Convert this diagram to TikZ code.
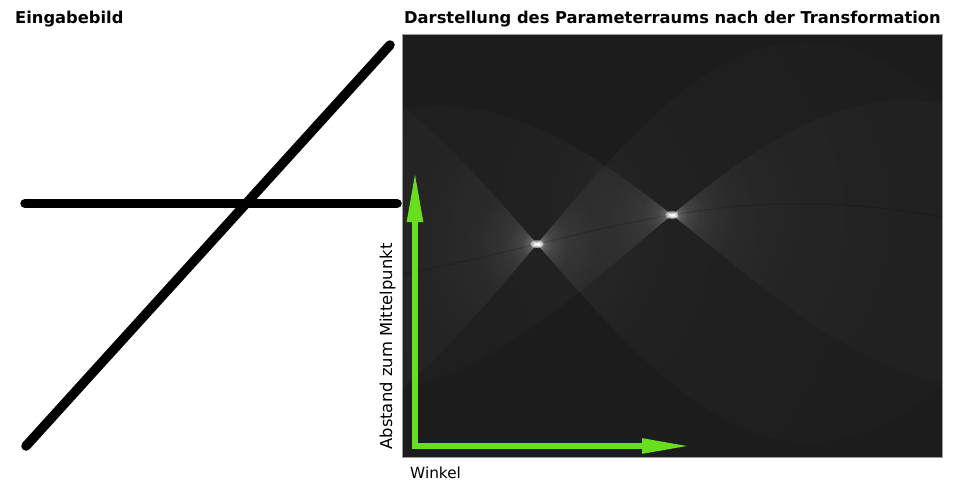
\documentclass[tikz,border=0pt]{standalone}
\usepackage{fontspec}
\setmainfont{DejaVu Sans}
\usetikzlibrary{arrows.meta}
\definecolor{hbg}{HTML}{1C1C1C}
\definecolor{hborder}{HTML}{9A9A9A}
\definecolor{agreen}{RGB}{104,222,30}
\pgfdeclareradialshading{wedgeglow}{\pgfpointorigin}{rgb(0bp)=(1,1,1); rgb(2bp)=(0.7,0.7,0.7); rgb(4bp)=(0.45,0.45,0.45); rgb(8bp)=(0.27,0.27,0.27); rgb(15bp)=(0.16,0.16,0.16); rgb(30bp)=(0.09,0.09,0.09); rgb(60bp)=(0.045,0.045,0.045); rgb(120bp)=(0.022,0.022,0.022); rgb(250bp)=(0.011,0.011,0.011); rgb(500bp)=(0.006,0.006,0.006)}
\pgfdeclareradialshading{peakdot}{\pgfpointorigin}{rgb(0bp)=(1,1,1); rgb(8bp)=(0.9,0.9,0.9); rgb(20bp)=(0.5,0.5,0.5); rgb(35bp)=(0.15,0.15,0.15); rgb(50bp)=(0,0,0)}
\newcommand{\houghy}[2]{245.5+((#1)*cos((\x-402)/3)+(#2)*sin((\x-402)/3))/1.34}
\tikzset{
  inputline/.style={line width=9.5pt, line cap=round, black},
  axisarrow/.style={line width=5.5pt, agreen, line join=miter},
  titletext/.style={anchor=base west, inner sep=0pt, font=\bfseries\fontsize{16.3}{19}\selectfont},
  labeltext/.style={inner sep=0pt},
}
\begin{document}
\begin{tikzpicture}[x=1pt,y=-1pt]
\useasboundingbox (0,0) rectangle (957,482);
% titles
\node[titletext] (t1) at (15,23) {Eingabebild};
\node[titletext] (t2) at (404,23) {Darstellung des Parameterraums nach der Transformation};
% input image lines
\coordinate (hA) at (25,203.5);
\coordinate (hB) at (397,203.5);
\coordinate (dA) at (26,446);
\coordinate (dB) at (390,45);
\draw[inputline] (hA) -- (hB);
\draw[inputline] (dA) -- (dB);
% parameter space
\fill[hbg] (402,34) rectangle (942,457);
\begin{scope}
  \clip (402,34) rectangle (942,457);
  % wedge of diagonal line
  \begin{scope}
    \clip plot[domain=402:942,samples=160] (\x,{\houghy{192}{-194.8}}) -- plot[domain=942:402,samples=160] (\x,{\houghy{-188}{185.2}}) -- cycle;
    \begin{scope}[blend mode=screen]
      \node[inner sep=0pt] (glowA) at (537,244) {\pgfuseshading{wedgeglow}};
    \end{scope}
  \end{scope}
  % wedge of horizontal line
  \begin{scope}
    \clip plot[domain=402:942,samples=160] (\x,{\houghy{-182}{-41}}) -- plot[domain=942:402,samples=160] (\x,{\houghy{190}{-41}}) -- cycle;
    \begin{scope}[blend mode=screen]
      \node[inner sep=0pt] (glowB) at (672,214.9) {\pgfuseshading{wedgeglow}};
    \end{scope}
  \end{scope}
  % crossing point trace
  \draw[black, opacity=0.15, line width=1.2pt] plot[domain=402:942,samples=160] (\x,{\houghy{38.2}{-41}});
  \begin{scope}[blend mode=screen]
    \shade[shading=peakdot] (537,244) ellipse [x radius=6.5, y radius=4];
    \shade[shading=peakdot] (672,214.9) ellipse [x radius=6.5, y radius=4];
  \end{scope}
\end{scope}
\draw[hborder, line width=1pt] (402,34) rectangle (942,457);
% axes
\coordinate (vtip) at (415,172);
\coordinate (corner) at (415,446);
\coordinate (htip) at (690,446);
\draw[axisarrow, {Triangle[length=50pt,width=15pt]}-{Triangle[length=48pt,width=14pt]}] (vtip) -- (corner) -- (htip);
\node[labeltext, anchor=base west, font=\fontsize{15.3}{18}\selectfont] (xl) at (410,478) {Winkel};
\node[labeltext, rotate=90, anchor=base, font=\fontsize{16.4}{19}\selectfont] (yl) at (392,346.5) {Abstand zum Mittelpunkt};
\end{tikzpicture}
\end{document}
